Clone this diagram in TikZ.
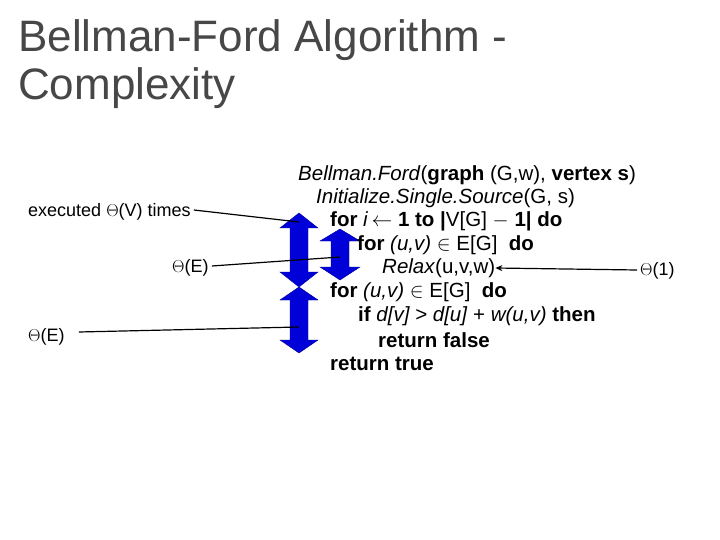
\documentclass[tikz,border=0pt]{standalone}
\usepackage{fontspec}
\setmainfont{Liberation Sans}
\usetikzlibrary{arrows.meta}
\begin{document}
\begin{tikzpicture}[x=1pt,y=-1pt,
  code/.style={anchor=west,font=\fontsize{20.5}{22}\selectfont,inner sep=0pt},
  lbl/.style={anchor=west,font=\fontsize{18}{20}\selectfont,inner sep=0pt},
  title/.style={anchor=west,font=\fontsize{44}{48}\selectfont,text=black!72,inner sep=0pt},
  dbl/.style={fill=blue!85!black,draw=blue!60!black,line width=0.4pt},
  conn/.style={line width=1.2pt},
  connarr/.style={line width=1.2pt,-{Stealth[length=7pt,width=6pt]}}]
\useasboundingbox (0,0) rectangle (720,540);
\node[title] (t1) at (18,40) {Bellman-Ford Algorithm -};
\node[title] (t2) at (18,88) {Complexity};
% double arrows
\draw[dbl] (299,213) -- (318,228) -- (308,228) -- (308,272) -- (318,272) -- (299,287) -- (280,272) -- (290,272) -- (290,228) -- (280,228) -- cycle;
\draw[dbl] (299,287) -- (318,300) -- (308,300) -- (308,340) -- (318,340) -- (299,353) -- (280,340) -- (290,340) -- (290,300) -- (280,300) -- cycle;
\draw[dbl] (340,229) -- (360,241) -- (349,241) -- (349,267) -- (360,267) -- (340,280) -- (320,267) -- (331,267) -- (331,241) -- (320,241) -- cycle;
\coordinate (a1) at (299,222);
\coordinate (a2) at (299,327);
\coordinate (a3) at (340,257);
% code
\node[code] (c1) at (298,175) {\textit{Bellman.Ford}(\textbf{graph} (G,w), \textbf{vertex s})};
\node[code] (c2) at (316,198) {\textit{Initialize.Single.Source}(G, s)};
\node[code] (c3) at (330,221.5) {\textbf{for} \textit{i}\,$\leftarrow$ \textbf{1 to |}V[G] $-$\ \textbf{1| do}};
\node[code] (c4) at (357,245) {\textbf{for} \textit{(u,v)} $\in$\ E[G]\ \ \textbf{do}};
\node[code] (c5) at (382,268) {\textit{Relax}(u,v,w)};
\node[code] (c6) at (330,292) {\textbf{for} \textit{(u,v)} $\in$\ E[G]\ \ \textbf{do}};
\node[code] (c7) at (358,316) {\textbf{if} \textit{d[v] > d[u]} + \textit{w(u,v)} \textbf{then}};
\node[code] (c8) at (378,340) {\textbf{return false}};
\node[code] (c9) at (330,364) {\textbf{return true}};
% labels
\node[lbl] (l1) at (28,212) {executed $\Theta$(V) times};
\node[lbl] (l2) at (172,268) {$\Theta$(E)};
\node[lbl] (l3) at (28,337) {$\Theta$(E)};
\node[lbl] (l4) at (640,271) {$\Theta$(1)};
\draw[conn] (l1.east) ++(3,-2) -- (a1);
\draw[conn] (l2.east) ++(3,-2) -- (a3);
\draw[conn] (l3.east) ++(14,-5) -- (a2);
\draw[connarr] (l4.west) ++(-3,-1) -- (c5.east);
\end{tikzpicture}
\end{document}
